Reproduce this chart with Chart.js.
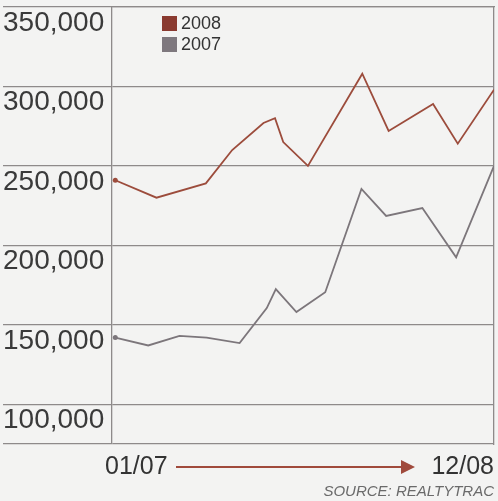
<!DOCTYPE html>
<html>
<head>
<meta charset="utf-8">
<script src="https://cdn.jsdelivr.net/npm/chart.js@4.4.1/dist/chart.umd.min.js"></script>
<style>
  html, body { margin: 0; padding: 0; background: #f3f3f2; }
  #c { display: block; }
</style>
</head>
<body>
<canvas id="c" width="498" height="501"></canvas>
<script>
// ---- data ----
const seriesNames = ['2008', '2007'];
const months2008 = [0, 2.5, 5.5, 7.1, 9, 9.7, 10.2, 11.7, 15, 16.6, 19.3, 20.8, 23];
const values2008 = [241000, 230000, 239000, 260000, 277000, 280000, 265000, 250000, 308000, 272000, 289000, 264000, 298000];
const months2007 = [0, 2, 3.9, 5.55, 7.55, 9.2, 9.75, 11, 12.75, 14.95, 16.45, 18.65, 20.7, 23];
const values2007 = [142000, 137000, 143000, 142000, 138500, 160500, 172500, 158000, 170500, 235500, 218500, 223500, 192500, 250000];
const yTickValues = [100000, 150000, 200000, 250000, 300000, 350000];
const xEndLabels = ['01/07', '12/08'];
const sourceText = 'SOURCE: REALTYTRAC';

const toPoints = (xs, ys) => xs.map((x, i) => ({ x: x, y: ys[i] }));

const colors = { '2008': '#9c4c3c', '2007': '#7c767b' };
const legendColors = { '2008': '#8a3a30', '2007': '#7e787e' };
const gridColor = '#8e8a8a';

const legendPlugin = {
  id: 'boxLegend',
  afterDraw(chart) {
    const ctx = chart.ctx;
    ctx.save();
    ctx.font = '18px "Liberation Sans", Arial, sans-serif';
    ctx.textBaseline = 'middle';
    ctx.textAlign = 'left';
    chart.data.datasets.forEach((ds, i) => {
      const y = 16 + i * 21;
      ctx.fillStyle = legendColors[ds.label];
      ctx.fillRect(162, y, 15, 15);
      ctx.fillStyle = '#333';
      ctx.fillText(ds.label, 181, y + 8);
    });
    ctx.restore();
  }
};

const footerPlugin = {
  id: 'footer',
  afterDraw(chart) {
    const ctx = chart.ctx;
    ctx.save();
    ctx.fillStyle = '#333';
    ctx.font = '25px "Liberation Sans", Arial, sans-serif';
    ctx.textBaseline = 'middle';
    ctx.textAlign = 'left';
    ctx.fillText(xEndLabels[0], 105, 467);
    ctx.textAlign = 'right';
    ctx.fillText(xEndLabels[1], 494, 467);
    // arrow
    ctx.strokeStyle = '#a04a3c';
    ctx.fillStyle = '#a04a3c';
    ctx.lineWidth = 2;
    ctx.beginPath();
    ctx.moveTo(176, 467);
    ctx.lineTo(404, 467);
    ctx.stroke();
    ctx.beginPath();
    ctx.moveTo(401, 460);
    ctx.lineTo(415, 467);
    ctx.lineTo(401, 474);
    ctx.closePath();
    ctx.fill();
    // source
    ctx.fillStyle = '#6a6a6a';
    ctx.font = 'italic 15px "Liberation Sans", Arial, sans-serif';
    ctx.textAlign = 'right';
    ctx.fillText(sourceText, 494, 492);
    ctx.restore();
  }
};

new Chart(document.getElementById('c'), {
  type: 'line',
  data: {
    datasets: [
      {
        label: seriesNames[0],
        data: toPoints(months2008, values2008),
        borderColor: colors['2008'],
        backgroundColor: colors['2008'],
        borderWidth: 1.8,
        pointRadius: ctx => ctx.dataIndex === 0 ? 2.5 : 0,
        pointBorderWidth: 0,
        tension: 0
      },
      {
        label: seriesNames[1],
        data: toPoints(months2007, values2007),
        borderColor: colors['2007'],
        backgroundColor: colors['2007'],
        borderWidth: 1.8,
        pointRadius: ctx => ctx.dataIndex === 0 ? 2.5 : 0,
        pointBorderWidth: 0,
        tension: 0
      }
    ]
  },
  options: {
    responsive: false,
    animation: false,
    devicePixelRatio: 1,
    layout: { padding: { left: 3, right: 2, top: 7, bottom: 57 } },
    plugins: {
      legend: { display: false },
      tooltip: { enabled: false }
    },
    scales: {
      x: {
        type: 'linear',
        min: -0.2,
        max: 23,
        display: false
      },
      xTop: {
        type: 'linear',
        position: 'top',
        axis: 'x',
        min: -0.2,
        max: 23,
        afterFit: scale => { scale.height = 0; scale.paddingLeft = 0; scale.paddingRight = 0; },
        grid: { display: false },
        ticks: { display: false },
        border: { display: true, color: gridColor, width: 1.3 }
      },
      y: {
        type: 'linear',
        position: 'left',
        min: 75000,
        max: 350000,
        afterBuildTicks: scale => {
          scale.ticks = [{ value: 75000 }].concat(yTickValues.map(v => ({ value: v })));
        },
        afterFit: scale => { scale.width = 109; scale.paddingTop = 0; scale.paddingBottom = 0; },
        grid: {
          color: gridColor,
          lineWidth: 1.3,
          drawTicks: true,
          tickLength: 109,
          tickColor: gridColor,
          tickWidth: 1.3
        },
        border: { display: true, color: gridColor, width: 1.3 },
        ticks: {
          crossAlign: 'far',
          labelOffset: 16,
          padding: 0,
          color: '#3a3a3a',
          font: { family: '"Liberation Sans", Arial, sans-serif', size: 28 },
          autoSkip: false,
          callback: v => (v === 75000 ? '' : v.toLocaleString('en-US'))
        }
      },
      yR: {
        type: 'linear',
        position: 'right',
        min: 75000,
        max: 350000,
        afterFit: scale => { scale.width = 0; scale.paddingTop = 0; scale.paddingBottom = 0; },
        grid: { display: false },
        ticks: { display: false },
        border: { display: true, color: gridColor, width: 1.3 }
      }
    }
  },
  plugins: [legendPlugin, footerPlugin]
});
</script>
</body>
</html>
